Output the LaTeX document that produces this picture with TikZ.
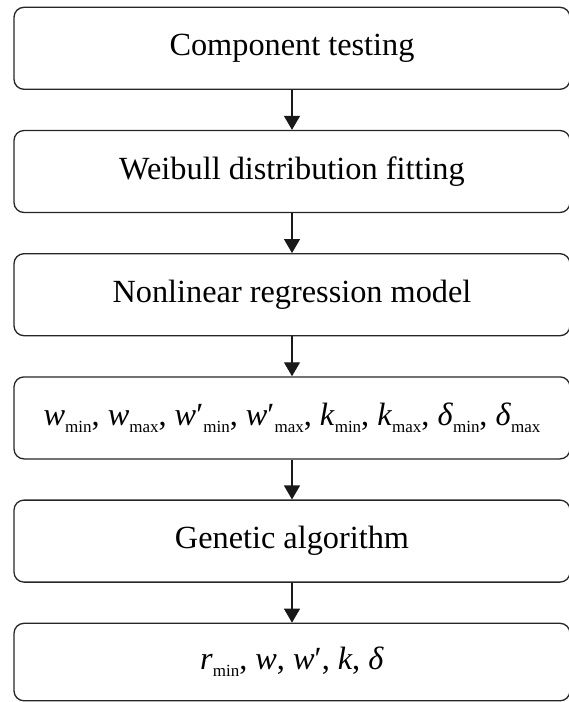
\documentclass[tikz,border=0pt]{standalone}
\usepackage{fontspec}
\setmainfont{Liberation Serif}
\usetikzlibrary{arrows.meta}
\newcommand\sbx[1]{\raisebox{-0.22em}{\fontsize{17}{17}\selectfont #1}}
\tikzset{
  stepbox/.style={draw=black!85, line width=1.3pt, rounded corners=10pt,
    minimum width=556pt, minimum height=82pt, inner sep=0pt,
    font=\fontsize{32.3}{37}\selectfont},
  flow/.style={draw=black!90, line width=1.3pt, -{Triangle[width=16pt,length=14pt]}}
}
\begin{document}
\begin{tikzpicture}[x=1pt,y=1pt]
\useasboundingbox (0,0) rectangle (569,-702);
\node[stepbox] (b1) at (292,-48.3) {Component testing};
\node[stepbox] (b2) at (292,-171.5) {Weibull distribution fitting};
\node[stepbox] (b3) at (292,-294.7) {Nonlinear regression model};
\node[stepbox] (b4) at (292,-417.9) {\textit{w}\sbx{min}, \textit{w}\sbx{max}, \textit{w}′\sbx{min}, \textit{w}′\sbx{max}, \textit{k}\sbx{min}, \textit{k}\sbx{max}, \textit{δ}\sbx{min}, \textit{δ}\sbx{max}};
\node[stepbox] (b5) at (292,-541.1) {Genetic algorithm};
\node[stepbox, minimum height=77.5pt] (b6) at (292,-662.05) {\textit{r}\sbx{min}, \textit{w}, \textit{w}′, \textit{k}, \textit{δ}};
\draw[flow] (b1) -- (b2);
\draw[flow] (b2) -- (b3);
\draw[flow] (b3) -- (b4);
\draw[flow] (b4) -- (b5);
\draw[flow] (b5) -- (b6);
\end{tikzpicture}
\end{document}
